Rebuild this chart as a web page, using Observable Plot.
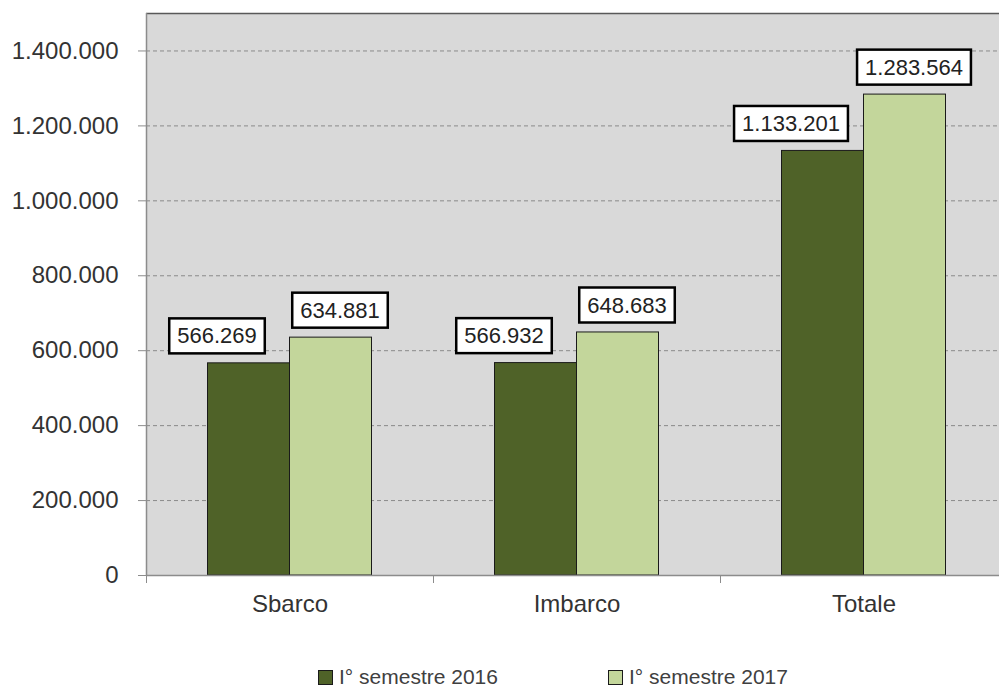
<!DOCTYPE html>
<html>
<head>
<meta charset="utf-8">
<script src="https://cdn.jsdelivr.net/npm/d3@7"></script>
<script src="https://cdn.jsdelivr.net/npm/@observablehq/plot@0.6"></script>
<style>
  html, body { margin: 0; padding: 0; background: #fff; overflow: hidden; }
  #legend { position: relative; width: 999px; height: 38px; font-family: "Liberation Sans", sans-serif; font-size: 21px; color: #404040; }
  .item { position: absolute; top: 16px; display: flex; align-items: center; white-space: nowrap; line-height: 22px; }
  .sw { width: 13px; height: 13px; border: 1px solid #1a1a1a; margin-right: 6px; }
</style>
</head>
<body>
<div id="chart"></div>
<div id="legend"></div>
<script>
const categories = ["Sbarco", "Imbarco", "Totale"];
const series = ["I° semestre 2016", "I° semestre 2017"];
const values2016 = [566269, 566932, 1133201];
const values2017 = [634881, 648683, 1283564];
const yTicks = [0, 200000, 400000, 600000, 800000, 1000000, 1200000, 1400000];
const colors = ["#4f6228", "#c3d69b"];

const itLocale = d3.formatLocale({decimal: ",", thousands: ".", grouping: [3], currency: ["€", ""]});
const fmt = itLocale.format(",d");

const rows = categories.flatMap((c, i) => [
  {cat: c, i, s: 0, series: series[0], value: values2016[i]},
  {cat: c, i, s: 1, series: series[1], value: values2017[i]}
]);

const w = 82 / 287; // bar width as a fraction of the category band

const chart = Plot.plot({
  width: 999,
  height: 650,
  marginLeft: 146,
  marginRight: -8,
  marginTop: 13,
  marginBottom: 75,
  style: {fontFamily: "Liberation Sans, sans-serif", fontSize: "22px", background: "#fff", overflow: "hidden"},
  x: {domain: [0, 3]},
  y: {domain: [0, 1500000]},
  color: {domain: series, range: colors},
  marks: [
    Plot.frame({fill: "#d9d9d9", stroke: null}),
    Plot.gridY(yTicks.filter(d => d > 0), {stroke: "#8a8a8a", strokeOpacity: 1, strokeDasharray: "4,3"}),
    Plot.rectY(rows, {
      x1: d => d.i + 0.5 - (d.s === 0 ? w : 0),
      x2: d => d.i + 0.5 + (d.s === 1 ? w : 0),
      y1: 0,
      y2: "value",
      fill: "series",
      stroke: "#1a1a1a",
      strokeWidth: 1
    }),
    Plot.ruleY([0], {stroke: "#8c8c8c", strokeWidth: 1.5}),
    Plot.ruleY([1500000], {stroke: "#595959", strokeWidth: 1.5}),
    Plot.ruleX([0], {y1: 0, y2: 1500000, stroke: "#8c8c8c", strokeWidth: 1.5}),
    Plot.axisY({ticks: yTicks, tickFormat: fmt, tickSize: 8, tickPadding: 20, stroke: "#8c8c8c", fill: "#333", label: null, fontSize: 24}),
    Plot.axisX({ticks: [0, 1, 2, 3], tickFormat: () => "", tickSize: 8, stroke: "#8c8c8c", label: null}),
    Plot.axisX({ticks: [0.5, 1.5, 2.5], tickFormat: d => categories[Math.floor(d)], tickSize: 0, tickPadding: 19, fill: "#333", label: null, fontSize: 24}),
    Plot.text(rows.filter(d => d.s === 0), {
      x: d => d.i + 0.5 - w / 2, y: "value", text: d => fmt(d.value),
      dx: -32, dy: -27, fill: "#222", fontSize: 22, textAnchor: "middle", lineAnchor: "middle"
    }),
    Plot.text(rows.filter(d => d.s === 1), {
      x: d => d.i + 0.5 + w / 2, y: "value", text: d => fmt(d.value),
      dx: 9, dy: -27, fill: "#222", fontSize: 22, textAnchor: "middle", lineAnchor: "middle"
    })
  ]
});

document.getElementById("chart").append(chart);

// draw white boxes behind value labels
chart.querySelectorAll('g[aria-label="text"] text').forEach(t => {
  const b = t.getBBox();
  const r = document.createElementNS("http://www.w3.org/2000/svg", "rect");
  r.setAttribute("x", b.x - 8);
  r.setAttribute("y", b.y - 5);
  r.setAttribute("width", b.width + 16);
  r.setAttribute("height", b.height + 10);
  r.setAttribute("fill", "#fff");
  r.setAttribute("stroke", "#000");
  r.setAttribute("stroke-width", 2.5);
  const tr = t.getAttribute("transform");
  if (tr) r.setAttribute("transform", tr);
  t.parentNode.insertBefore(r, t);
});

// legend
const legend = document.getElementById("legend");
const lefts = [318, 608];
series.forEach((s, k) => {
  const it = document.createElement("div");
  it.className = "item";
  it.style.left = lefts[k] + "px";
  const sw = document.createElement("span");
  sw.className = "sw";
  sw.style.background = colors[k];
  const tx = document.createElement("span");
  tx.textContent = s;
  it.append(sw, tx);
  legend.append(it);
});
</script>
</body>
</html>
